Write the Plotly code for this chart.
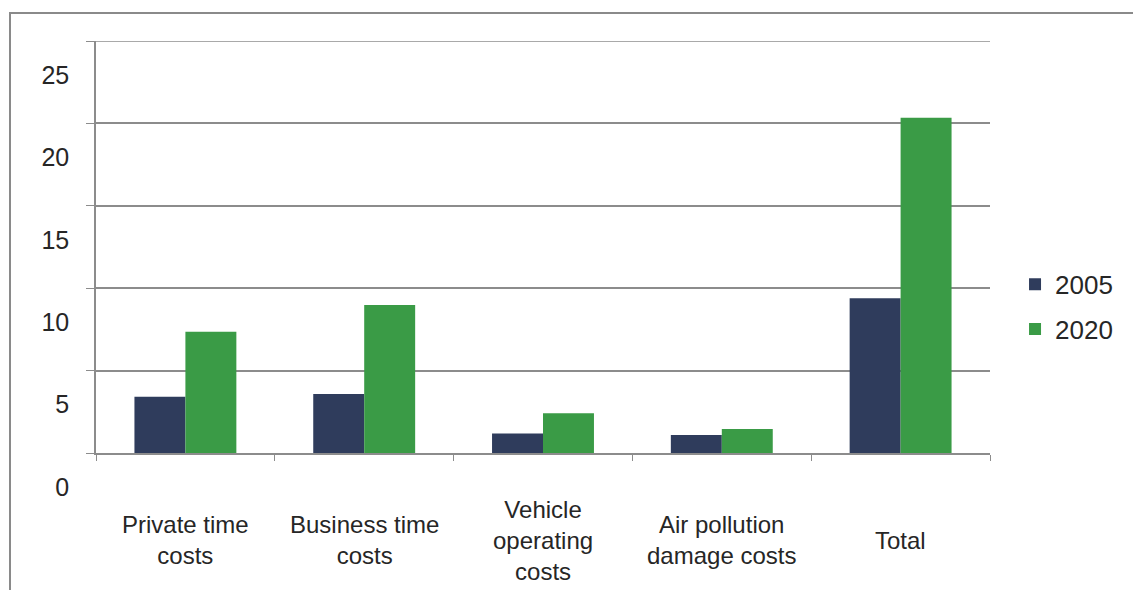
import plotly.graph_objects as go

categories = ["Private time<br>costs", "Business time<br>costs", "Vehicle<br>operating<br>costs",
              "Air pollution<br>damage costs", "Total"]
values_2005 = [3.42, 3.58, 1.19, 1.09, 9.39]
values_2020 = [7.36, 8.98, 2.41, 1.46, 20.35]
y_ticks = [0, 5, 10, 15, 20, 25]

NAVY = "#2f3c5c"
GREEN = "#3a9b46"
GRID = "#8c8c8c"
TEXT = "#262626"
FONT = "Liberation Sans, Arial, sans-serif"

W, H = 1133, 590
L, R, T, B = 96, 143, 41, 137
pw, ph = W - L - R, H - T - B

fig = go.Figure()
fig.add_trace(go.Bar(x=categories, y=values_2005, name="2005", marker_color=NAVY,
                     marker_line_width=0, legendgroup="a"))
fig.add_trace(go.Bar(x=categories, y=values_2020, name="2020", marker_color=GREEN,
                     marker_line_width=0, legendgroup="b"))

# category labels, vertically centred under each group
for c in categories:
    fig.add_annotation(x=c, y=(0 - 87) / ph, xref="x", yref="paper",
                       text=c, showarrow=False, xanchor="center", yanchor="middle",
                       font=dict(family=FONT, size=24, color=TEXT), align="center")

# gridline at the top of the value range (plotly skips it at the plot edge)
fig.add_shape(type="line", xref="paper", yref="y", x0=0, x1=1,
              y0=y_ticks[-1], y1=y_ticks[-1], line=dict(color=GRID, width=1.5), layer="below")

# outer frame
fig.add_shape(type="rect", xref="paper", yref="paper",
              x0=(10 - L) / pw, x1=(W + 20 - L) / pw,
              y0=-(H + 20 - T - ph) / ph, y1=1 + (T - 13) / ph,
              line=dict(color="#8a8a8a", width=2), fillcolor="rgba(0,0,0,0)", layer="below")

fig.update_layout(
    width=W, height=H,
    margin=dict(l=L, r=R, t=T, b=B),
    paper_bgcolor="white", plot_bgcolor="white",
    barmode="group", bargap=0.43, bargroupgap=0,
    font=dict(family=FONT, color=TEXT),
    legend=dict(x=1.028, y=0.355, xanchor="left", yanchor="middle",
                font=dict(family=FONT, size=26, color=TEXT),
                traceorder="grouped", tracegroupgap=8, itemwidth=30,
                bgcolor="rgba(0,0,0,0)"),
    xaxis=dict(showticklabels=False, tickson="boundaries", ticks="outside", ticklen=6,
               tickcolor=GRID, showline=True, linecolor=GRID, linewidth=1.5,
               showgrid=False, zeroline=False),
    yaxis=dict(range=[0, 25], tickvals=y_ticks, ticks="outside", ticklen=8, tickcolor=GRID,
               showline=True, linecolor=GRID, linewidth=1.5,
               showgrid=True, gridcolor=GRID, gridwidth=1.5, zeroline=False,
               ticklabelshift=34, ticklabelstandoff=12,
               tickfont=dict(family=FONT, size=25, color=TEXT)),
)

fig.write_html("out.html")
